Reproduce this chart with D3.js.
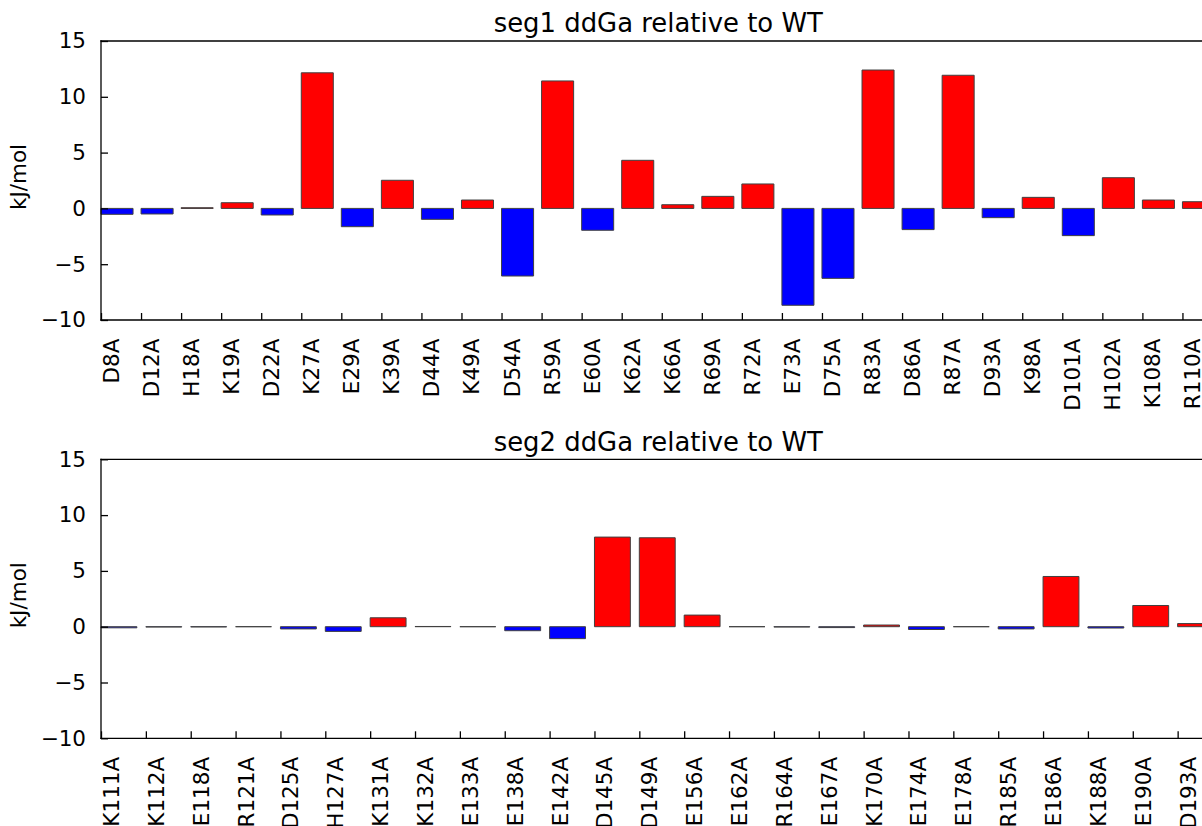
<!DOCTYPE html>
<html>
<head>
<meta charset="utf-8">
<script src="https://cdn.jsdelivr.net/npm/d3@7"></script>
<style>
  body { margin: 0; background: #fff; }
  svg { display: block; font-family: "DejaVu Sans", sans-serif; }
</style>
</head>
<body>
<div id="chart"></div>
<script>
var seg1Labels = ['D8A', 'D12A', 'H18A', 'K19A', 'D22A', 'K27A', 'E29A', 'K39A', 'D44A', 'K49A',
  'D54A', 'R59A', 'E60A', 'K62A', 'K66A', 'R69A', 'R72A', 'E73A', 'D75A', 'R83A',
  'D86A', 'R87A', 'D93A', 'K98A', 'D101A', 'H102A', 'K108A', 'R110A']
var seg1Values = [-0.53, -0.5, 0.06, 0.51, -0.59, 12.15, -1.64, 2.52, -0.98, 0.75,
  -6.06, 11.42, -1.96, 4.31, 0.33, 1.08, 2.19, -8.68, -6.27, 12.4,
  -1.9, 11.93, -0.83, 0.99, -2.44, 2.75, 0.75, 0.6]

var seg2Labels = ['K111A', 'K112A', 'E118A', 'R121A', 'D125A', 'H127A', 'K131A', 'K132A', 'E133A', 'E138A',
  'E142A', 'D145A', 'D149A', 'E156A', 'E162A', 'R164A', 'E167A', 'K170A', 'E174A', 'E178A',
  'R185A', 'E186A', 'K188A', 'E190A', 'D193A']
var seg2Values = [-0.1, -0.03, -0.02, 0, -0.2, -0.42, 0.8, 0.02, 0, -0.36,
  -1.07, 8.03, 7.97, 1.04, 0, -0.03, -0.08, 0.15, -0.25, 0,
  -0.2, 4.5, -0.12, 1.9, 0.28]

var titles = ['seg1 ddGa relative to WT', 'seg2 ddGa relative to WT']
var yTicks = [-10, -5, 0, 5, 10, 15]

var w = 1202
var h = 826
var fs = '21.5px'  // tick and label font size

var svg = d3.select('#chart').append('svg')
  .attr('width', w)
  .attr('height', h)

makePanel(svg, titles[0], seg1Labels, seg1Values, 41)
makePanel(svg, titles[1], seg2Labels, seg2Values, 459.3)

function makePanel(svg, title, labels, values, top) {
  var left = 101
  var right = 1222.5
  var ph = 279 // plot height
  var bottom = top + ph

  var x = d3.scaleLinear().domain([0, labels.length]).range([left, right])
  var y = d3.scaleLinear().domain([-10, 15]).range([bottom, top])

  var g = svg.append('g')

  // bars start at the tick, 0.8 wide (old matplotlib edge alignment)
  g.selectAll('path.bar')
    .data(values)
    .join('path')
    .attr('class', 'bar')
    .attr('d', function(d, i) {
      var x0 = x(i), x1 = x(i + 0.8), y0 = y(0), y1 = y(d)
      return 'M' + x0 + ',' + y0 + 'H' + x1 + 'V' + y1 + 'H' + x0 + 'Z'
    })
    .attr('fill', function(d) { return d > 0 ? '#ff0000' : '#0000ff' })
    .attr('stroke', '#404040')
    .attr('stroke-width', 1)

  var yAxis = g.append('g')
    .attr('transform', 'translate(' + left + ',0)')
    .call(d3.axisLeft(y).tickValues(yTicks).tickSize(-7).tickPadding(15))
  yAxis.select('.domain').remove()
  yAxis.selectAll('line').attr('stroke', '#000').attr('stroke-width', 1.3)
  yAxis.selectAll('text')
    .attr('font-size', fs)
    .attr('font-family', '"DejaVu Sans", sans-serif')
    .attr('fill', '#000')

  var xAxis = g.append('g')
    .attr('transform', 'translate(0,' + bottom + ')')
    .call(d3.axisBottom(x)
      .tickValues(d3.range(labels.length))
      .tickSize(-7)
      .tickFormat(function(i) { return labels[i] }))
  xAxis.select('.domain').remove()
  xAxis.selectAll('line').attr('stroke', '#000').attr('stroke-width', 1.3)
  xAxis.selectAll('text')
    .attr('y', null)
    .attr('dy', null)
    .attr('transform', 'translate(17.5,18.5) rotate(-90)')
    .attr('text-anchor', 'end')
    .attr('font-size', fs)
    .attr('font-family', '"DejaVu Sans", sans-serif')
    .attr('fill', '#000')

  // spines
  var spines = [[left, top, right, top], [left, bottom, right, bottom],
    [left, top, left, bottom], [right, top, right, bottom]]
  g.selectAll('line.spine')
    .data(spines)
    .join('line')
    .attr('class', 'spine')
    .attr('x1', function(d) { return d[0] })
    .attr('y1', function(d) { return d[1] })
    .attr('x2', function(d) { return d[2] })
    .attr('y2', function(d) { return d[3] })
    .attr('stroke', '#000')
    .attr('stroke-width', 1.3)
    .attr('stroke-linecap', 'square')

  g.append('text')
    .attr('x', (left + right) / 2 - 3.5)
    .attr('y', top - 8.7)
    .attr('text-anchor', 'middle')
    .attr('font-size', '25.9px')
    .text(title)

  g.append('text')
    .attr('transform', 'translate(26,' + (top + 136) + ') rotate(-90)')
    .attr('text-anchor', 'middle')
    .attr('font-size', fs)
    .text('kJ/mol')
}
</script>
</body>
</html>
